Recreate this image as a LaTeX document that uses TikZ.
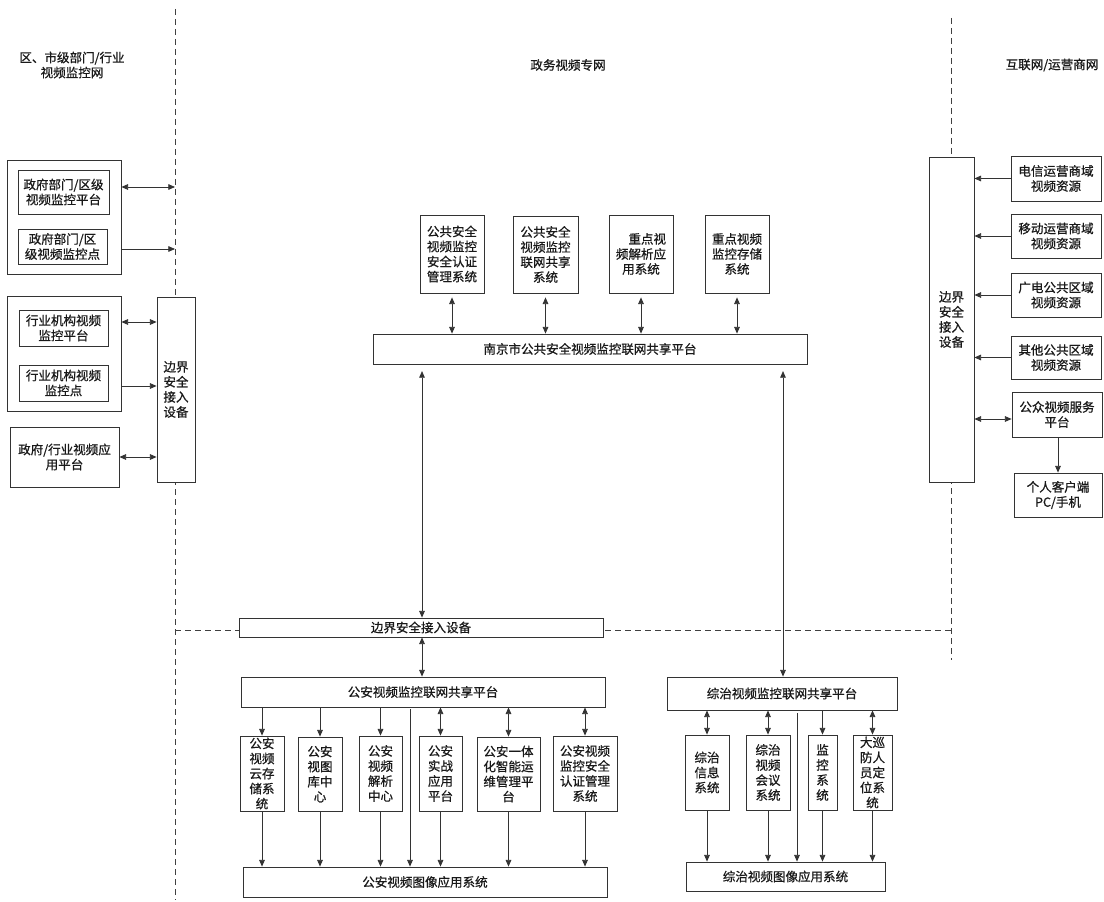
\documentclass[tikz,border=0pt]{standalone}
\usepackage{fontspec}
\setmainfont{Noto Sans CJK SC}[FakeBold=0.7]
\usetikzlibrary{arrows.meta}
\newcommand\mybox[7][]{%
  \pgfmathsetmacro\bw{(#5-#3)*0.75}%
  \pgfmathsetmacro\bh{(#6-#4)*0.75}%
  \node[box,minimum width=\bw pt,minimum height=\bh pt] (#2) at ({(#3+#5)/2},{(#4+#6)/2}) {};
  \node[txt,#1] at (#2.center) {#7};}
\begin{document}
\begin{tikzpicture}[x=0.75pt,y=-0.75pt,
  box/.style={draw=black!80,line width=0.6pt,fill=white,inner sep=0pt,rectangle},
  txt/.style={align=center,inner sep=0pt,text=black!90,font=\fontsize{9.4pt}{11.3pt}\selectfont},
  ttl/.style={align=center,inner sep=0pt,text=black!90,font=\fontsize{9.4pt}{11.3pt}\selectfont},
  ln/.style={draw=black!80,line width=0.6pt},
  arr/.style={ln,-{Triangle[length=5pt,width=4.2pt]}},
  dbl/.style={ln,{Triangle[length=5pt,width=4.2pt]}-{Triangle[length=5pt,width=4.2pt]}},
  dsh/.style={draw=black!75,line width=0.6pt,dash pattern=on 4.5pt off 3pt}]
\useasboundingbox (0,0) rectangle (1104,902);
\fill[white] (0,0) rectangle (1104,902);
% dashed dividers
\coordinate (dlt) at (175,9);
\coordinate (dlb) at (175,900);
\coordinate (drt) at (951,18);
\coordinate (drb) at (951,660);
\coordinate (dhl) at (175,630);
\coordinate (dhr) at (951,630);
\draw[dsh] (dlt) -- (dlb);
\draw[dsh] (drt) -- (drb);
\draw[dsh] (dhl) -- (dhr);
% titles
\node[ttl] (t1) at (72,65) {区、市级部门/行业\\视频监控网};
\node[ttl] (t2) at (568,65) {政务视频专网};
\node[ttl] (t3) at (1052,65) {互联网/运营商网};
% left column
\mybox{o1}{7}{160}{121}{274}{}
\mybox{l1}{18}{170}{109}{214}{政府部门/区级\\视频监控平台}
\mybox{l2}{18}{229}{107}{264}{政府部门/区\\级视频监控点}
\mybox{o2}{7}{296}{121}{411}{}
\mybox{l3}{19}{310}{108}{346}{行业机构视频\\监控平台}
\mybox{l4}{19}{365}{108}{401}{行业机构视频\\监控点}
\mybox{l5}{10}{427}{119}{487}{政府/行业视频应\\用平台}
\mybox{lb}{157}{297}{195}{482}{边界\\安全\\接入\\设备}
\coordinate (la) at (175,187);
\coordinate (lc) at (175,249);
\draw[dbl] (o1.east |- la) -- (la);
\draw[arr] (o1.east |- lc) -- (lc);
\coordinate (lyd) at (0,322);
\coordinate (lye) at (0,386);
\coordinate (lyf) at (0,457);
\draw[dbl] (o2.east |- lyd) -- (lb.west |- lyd);
\draw[arr] (o2.east |- lye) -- (lb.west |- lye);
\draw[dbl] (l5.east |- lyf) -- (lb.west |- lyf);
% top center
\mybox{ta}{420}{215}{484}{293}{公共安全\\视频监控\\安全认证\\管理系统}
\mybox{tb}{513}{216}{578}{293}{公共安全\\视频监控\\联网共享\\系统}
\mybox{tc}{609}{215}{673}{293}{\hspace*{1em}重点视\\频解析应\\用系统}
\mybox{td}{705}{215}{769}{293}{重点视频\\监控存储\\系统}
\mybox{nj}{373}{334}{807}{364}{南京市公共安全视频监控联网共享平台}
\foreach \n in {ta,tb,tc,td}{
  \draw[dbl,shorten <=3pt] (\n.south) -- (\n.south |- nj.north);
}
% right column
\mybox{rb}{929}{157}{974}{482}{边界\\安全\\接入\\设备}
\mybox{r1}{1011}{156}{1101}{201}{电信运营商域\\视频资源}
\mybox{r2}{1011}{214}{1101}{258}{移动运营商域\\视频资源}
\mybox{r3}{1011}{273}{1101}{317}{广电公共区域\\视频资源}
\mybox{r4}{1011}{336}{1101}{379}{其他公共区域\\视频资源}
\mybox{r5}{1012}{392}{1102}{437}{公众视频服务\\平台}
\mybox{r6}{1014}{473}{1102}{517}{个人客户端\\PC/手机}
\foreach \n in {r1,r2,r3,r4}{
  \draw[arr] (\n.west) -- (rb.east |- \n.west);
}
\coordinate (ry5) at (0,419);
\draw[dbl] (rb.east |- ry5) -- (r5.west |- ry5);
\coordinate (rx6) at (1058,0);
\draw[arr] (rx6 |- r5.south) -- (rx6 |- r6.north);
% border device bottom
\mybox{bj}{239}{618}{603}{637}{边界安全接入设备}
% police platform
\mybox{gp}{241}{677}{605}{707}{公安视频监控联网共享平台}
\mybox{g1}{240}{736}{284}{811}{公安\\视频\\云存\\储系\\统}
\mybox{g2}{298}{737}{342}{811}{公安\\视图\\库中\\心}
\mybox{g3}{359}{736}{402}{811}{公安\\视频\\解析\\中心}
\mybox{g4}{419}{736}{462}{811}{公安\\实战\\应用\\平台}
\mybox{g5}{477}{737}{540}{811}{公安一体\\化智能运\\维管理平\\台}
\mybox{g6}{553}{736}{617}{811}{公安视频\\监控安全\\认证管理\\系统}
\mybox{gb}{243}{867}{607}{897}{公安视频图像应用系统}
\foreach \n in {g1,g2,g3}{
  \draw[arr] (\n.north |- gp.south) -- (\n.north);
}
\foreach \n in {g4,g5,g6}{
  \draw[dbl] (\n.north |- gp.south) -- (\n.north);
}
\foreach \n in {g1,g2,g3,g4,g5,g6}{
  \draw[arr] (\n.south) -- (\n.south |- gb.north);
}
\coordinate (gx) at (410,0);
\draw[arr,shorten <=1.5pt] (gx |- gp.south) -- (gx |- gb.north);
% zongzhi platform
\mybox{zp}{667}{677}{897}{710}{综治视频监控联网共享平台}
\mybox{z1}{685}{735}{729}{810}{综治\\信息\\系统}
\mybox{z2}{746}{735}{790}{810}{综治\\视频\\会议\\系统}
\mybox{z3}{808}{735}{837}{810}{监\\控\\系\\统}
\mybox{z4}{853}{735}{892}{810}{大巡\\防人\\员定\\位系\\统}
\mybox{zb}{686}{862}{885}{891}{综治视频图像应用系统}
\foreach \n in {z1,z2,z4}{
  \draw[dbl] (\n.north |- zp.south) -- (\n.north);
}
\draw[arr] (z3.north |- zp.south) -- (z3.north);
\foreach \n in {z1,z2,z3,z4}{
  \draw[arr] (\n.south) -- (\n.south |- zb.north);
}
\coordinate (zx) at (797,0);
\draw[arr,shorten <=2pt] (zx |- zp.south) -- (zx |- zb.north);
% long links
\coordinate (kx1) at (422,0);
\coordinate (kx2) at (783,0);
\draw[dbl,shorten <=5pt] (kx1 |- nj.south) -- (kx1 |- bj.north);
\draw[dbl,shorten <=5pt] (kx2 |- nj.south) -- (kx2 |- zp.north);
\draw[dbl] (kx1 |- bj.south) -- (kx1 |- gp.north);
\end{tikzpicture}
\end{document}
